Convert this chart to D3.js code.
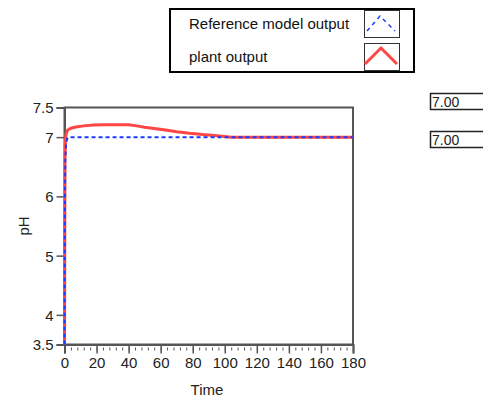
<!DOCTYPE html>
<html>
<head>
<meta charset="utf-8">
<script src="https://cdn.jsdelivr.net/npm/d3@7"></script>
<style>
  body { margin: 0; background: #fff; }
  svg { display: block; font-family: "Liberation Sans", Arial, sans-serif; }
  .axis text { font-size: 15px; fill: #222; }
</style>
</head>
<body>
<svg id="chart" width="483" height="398"></svg>
<script>
// reference model output (blue dashed)
const refTime = [0, 0.2, 0.5, 1, 1.5, 2, 3, 180];
const refPh   = [3.5, 5.8, 6.6, 6.88, 6.96, 6.99, 7.0, 7.0];

// plant output (red)
const plantTime = [0, 0.3, 0.6, 1, 2, 4, 7, 12, 18, 25, 40, 45, 50, 56, 63, 70, 78, 86, 97, 104, 180];
const plantPh   = [3.5, 6.65, 6.95, 7.05, 7.12, 7.15, 7.17, 7.19, 7.205, 7.21, 7.21, 7.19, 7.165, 7.145, 7.12, 7.09, 7.065, 7.045, 7.02, 7.0, 7.0];

const yTicks = [3.5, 4, 5, 6, 7, 7.5];
const xTicks = d3.range(0, 181, 20);
const xMinor = d3.range(0, 181, 4);

const legendNames = ["Reference model output", "plant output"];
const indicatorValues = ["7.00", "7.00"];

const svg = d3.select("#chart");
const plotL = 64.5, plotR = 353, plotT = 107.5, plotB = 344.5;

const x = d3.scaleLinear().domain([0, 180]).range([plotL, plotR]);
const y = d3.scaleLinear().domain([3.5, 7.5]).range([plotB, plotT]);

// plot frame
svg.append("rect")
  .attr("x", plotL).attr("y", plotT)
  .attr("width", plotR - plotL).attr("height", plotB - plotT)
  .attr("fill", "#fff").attr("stroke", "#555").attr("stroke-width", 2);

// y axis
const yAxis = svg.append("g").attr("class", "axis")
  .attr("transform", "translate(" + plotL + ",0)")
  .call(d3.axisLeft(y).tickValues(yTicks).tickSize(8).tickPadding(3)
    .tickFormat(d => d % 1 ? d3.format(".1f")(d) : d3.format("d")(d)));
yAxis.select(".domain").attr("stroke", "#555").attr("stroke-width", 2);
yAxis.selectAll(".tick line").attr("stroke", "#555").attr("stroke-width", 1.5);
yAxis.selectAll("text").attr("dy", "0.36em");

// x axis minor ticks
svg.append("g").attr("class", "axis")
  .attr("transform", "translate(0," + plotB + ")")
  .call(d3.axisBottom(x).tickValues(xMinor).tickSize(6).tickFormat(""))
  .call(g => g.select(".domain").remove())
  .selectAll(".tick line").attr("stroke", "#555").attr("stroke-width", 1)
  .attr("y1", 3);

// x axis major ticks
const xAxis = svg.append("g").attr("class", "axis")
  .attr("transform", "translate(0," + plotB + ")")
  .call(d3.axisBottom(x).tickValues(xTicks).tickSize(9).tickPadding(4));
xAxis.select(".domain").attr("stroke", "#555").attr("stroke-width", 2);
xAxis.selectAll(".tick line").attr("stroke", "#555").attr("stroke-width", 1.5);

// axis titles
svg.append("text")
  .attr("x", 207).attr("y", 395)
  .attr("text-anchor", "middle").attr("font-size", 15).attr("fill", "#222")
  .text("Time");
svg.append("text")
  .attr("transform", "translate(29,226) rotate(-90)")
  .attr("text-anchor", "middle").attr("font-size", 15).attr("fill", "#222")
  .text("pH");

// curves
const line = d3.line().x(d => x(d[0])).y(d => y(d[1]));
const plantData = plantTime.map((t, i) => [t, plantPh[i]]);
const refData = refTime.map((t, i) => [t, refPh[i]]);

svg.append("path")
  .attr("d", line(plantData))
  .attr("fill", "none").attr("stroke", "#ff4646").attr("stroke-width", 3);
svg.append("path")
  .attr("d", line(refData))
  .attr("fill", "none").attr("stroke", "#1a3cff").attr("stroke-width", 2)
  .attr("stroke-dasharray", "4,3");

// legend
const legend = svg.append("g");
legend.append("rect")
  .attr("x", 170).attr("y", 9).attr("width", 244).attr("height", 63)
  .attr("fill", "#fff").attr("stroke", "#000").attr("stroke-width", 2);

const rowY = [10, 43];
const swatchPaths = [
  [[367, 31], [380, 16], [395, 31]],
  [[365, 64], [381, 48], [397, 64]]
];
legendNames.forEach((name, i) => {
  legend.append("text")
    .attr("x", 189).attr("y", rowY[i] + 19)
    .attr("font-size", 15).attr("fill", "#111")
    .text(name);
  legend.append("rect")
    .attr("x", 364.5).attr("y", rowY[i] + 0.5).attr("width", 35).attr("height", 27)
    .attr("fill", "#fff").attr("stroke", "#333").attr("stroke-width", 1);
  legend.append("path")
    .attr("d", d3.line()(swatchPaths[i]))
    .attr("fill", "none")
    .attr("stroke", i === 0 ? "#1a3cff" : "#ff4646")
    .attr("stroke-width", i === 0 ? 1.5 : 3)
    .attr("stroke-dasharray", i === 0 ? "4,4" : null);
});

// numeric indicators
const indY = [93, 131];
indicatorValues.forEach((v, i) => {
  svg.append("rect")
    .attr("x", 430.5).attr("y", indY[i] + 0.5).attr("width", 60).attr("height", 16)
    .attr("fill", "#fff").attr("stroke", "#222").attr("stroke-width", 1.5);
  svg.append("text")
    .attr("x", 432).attr("y", indY[i] + 13.5)
    .attr("font-size", 14).attr("fill", "#222")
    .text(v);
});
</script>
</body>
</html>
